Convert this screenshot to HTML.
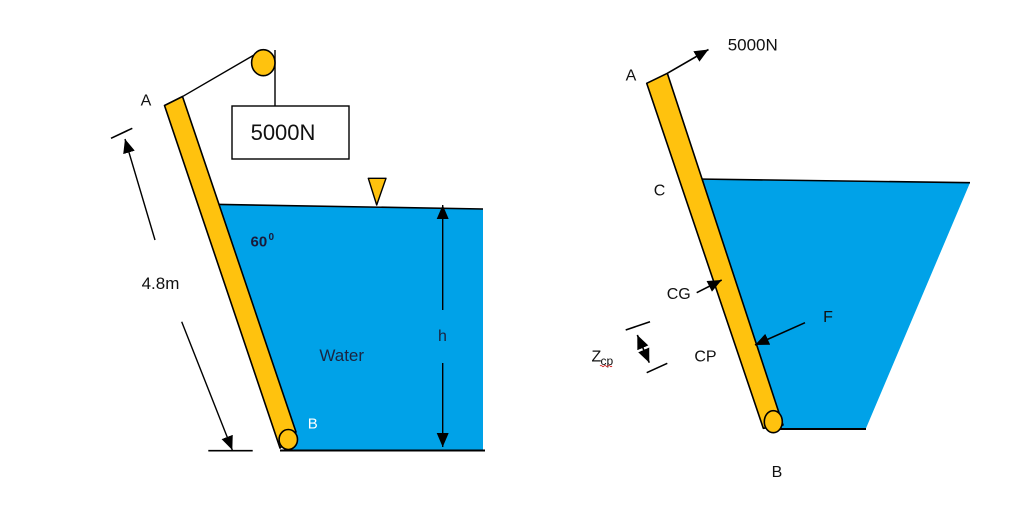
<!DOCTYPE html>
<html>
<head>
<meta charset="utf-8">
<style>
html,body{margin:0;padding:0;background:#fff;}
svg{display:block;}
text{font-family:"Liberation Sans",sans-serif;}
</style>
</head>
<body>
<svg width="1024" height="515" viewBox="0 0 1024 515" xmlns="http://www.w3.org/2000/svg">
<defs>
<marker id="ah" viewBox="0 0 14 12" refX="14" refY="6" markerWidth="14" markerHeight="12" markerUnits="userSpaceOnUse" orient="auto">
<path d="M0,0 L14,6 L0,12 z" fill="#000"/>
</marker>
<marker id="ahs" viewBox="0 0 14 12" refX="0" refY="6" markerWidth="14" markerHeight="12" markerUnits="userSpaceOnUse" orient="auto">
<path d="M14,0 L0,6 L14,12 z" fill="#000"/>
</marker>
</defs>

<!-- LEFT DIAGRAM -->
<polygon points="208,204 483,209 483,450.5 286,450.5" fill="#00a2e8"/>
<line x1="213" y1="204.3" x2="483" y2="209" stroke="#000" stroke-width="1.6"/>
<line x1="280" y1="450.5" x2="485" y2="450.5" stroke="#000" stroke-width="2"/>

<polygon points="164.5,105.5 182.5,96.5 296,432 280,448" fill="#ffc20e" stroke="#000" stroke-width="1.6" stroke-linejoin="round"/>
<ellipse cx="288.3" cy="439.5" rx="9.2" ry="10" fill="#ffc20e" stroke="#000" stroke-width="1.6"/>

<line x1="182.3" y1="96.7" x2="254" y2="55" stroke="#000" stroke-width="1.4"/>
<line x1="275" y1="50" x2="275" y2="106" stroke="#000" stroke-width="1.4"/>
<ellipse cx="263.3" cy="62.7" rx="11.7" ry="13" fill="#ffc20e" stroke="#000" stroke-width="1.6"/>
<rect x="232" y="106" width="117" height="53" fill="#fff" stroke="#000" stroke-width="1.4"/>
<text x="283" y="140" font-size="22" text-anchor="middle" fill="#111">5000N</text>

<polygon points="368.3,178.3 386,178.3 376.7,205" fill="#ffc20e" stroke="#000" stroke-width="1.4" stroke-linejoin="round"/>

<line x1="442.7" y1="310" x2="442.7" y2="205" stroke="#000" stroke-width="1.4" marker-end="url(#ah)"/>
<line x1="442.7" y1="363" x2="442.7" y2="447" stroke="#000" stroke-width="1.4" marker-end="url(#ah)"/>
<text x="442.5" y="341" font-size="16" text-anchor="middle" fill="#1a2440">h</text>

<line x1="111" y1="138.3" x2="132.3" y2="128.3" stroke="#000" stroke-width="1.6"/>
<line x1="155" y1="240" x2="125" y2="139" stroke="#000" stroke-width="1.4" marker-end="url(#ah)"/>
<line x1="181.7" y1="321.7" x2="232.3" y2="450" stroke="#000" stroke-width="1.4" marker-end="url(#ah)"/>
<line x1="208.3" y1="450.7" x2="252.7" y2="450.7" stroke="#000" stroke-width="1.6"/>
<text x="160.5" y="289" font-size="17" text-anchor="middle" fill="#111">4.8m</text>

<text x="146" y="105.5" font-size="16" text-anchor="middle" fill="#111">A</text>
<text x="250.5" y="246.7" font-size="15" font-weight="bold" fill="#1a1a3a">60</text>
<text x="268.5" y="240" font-size="10" font-weight="bold" fill="#1a1a3a">0</text>
<text x="341.7" y="361" font-size="17" text-anchor="middle" fill="#1a2440">Water</text>
<text x="312.7" y="428.3" font-size="15" text-anchor="middle" fill="#fff">B</text>

<!-- RIGHT DIAGRAM -->
<polygon points="690,179 970,182.7 865.7,429 775,429" fill="#00a2e8"/>
<line x1="696.7" y1="179" x2="970" y2="182.7" stroke="#000" stroke-width="1.6"/>
<line x1="780" y1="429" x2="866" y2="429" stroke="#000" stroke-width="2"/>

<polygon points="646.7,83.3 667.3,73.3 783,425 763.3,428.3" fill="#ffc20e" stroke="#000" stroke-width="1.6" stroke-linejoin="round"/>
<ellipse cx="773.3" cy="421.7" rx="9" ry="11" fill="#ffc20e" stroke="#000" stroke-width="1.6"/>

<line x1="667.3" y1="73.3" x2="708.5" y2="49.5" stroke="#000" stroke-width="1.6" marker-end="url(#ah)"/>
<text x="727.7" y="50.7" font-size="17" fill="#111">5000N</text>

<line x1="696.7" y1="292.7" x2="721.7" y2="280" stroke="#000" stroke-width="1.6" marker-end="url(#ah)"/>
<line x1="805" y1="322.7" x2="755" y2="345" stroke="#000" stroke-width="1.6" marker-end="url(#ah)"/>

<line x1="625.7" y1="330" x2="650" y2="321.7" stroke="#000" stroke-width="1.6"/>
<line x1="646.7" y1="372.7" x2="667.3" y2="363.3" stroke="#000" stroke-width="1.6"/>
<line x1="637.3" y1="335" x2="649.3" y2="362.7" stroke="#000" stroke-width="1.6" marker-start="url(#ahs)" marker-end="url(#ah)"/>
<text x="591.5" y="361.7" font-size="16" fill="#111">Z</text>
<text x="600.5" y="365" font-size="12" fill="#111">cp</text>
<path d="M600,366 q1,-1.5 2,0 t2,0 t2,0 t2,0 t2,0 t2,0" fill="none" stroke="#d02020" stroke-width="0.8"/>

<text x="631" y="80.7" font-size="16" text-anchor="middle" fill="#111">A</text>
<text x="659.5" y="195.7" font-size="16" text-anchor="middle" fill="#111">C</text>
<text x="678.7" y="299" font-size="16" text-anchor="middle" fill="#111">CG</text>
<text x="828" y="322" font-size="16" text-anchor="middle" fill="#111">F</text>
<text x="705.5" y="361.5" font-size="16" text-anchor="middle" fill="#111">CP</text>
<text x="777" y="477" font-size="16" text-anchor="middle" fill="#111">B</text>
</svg>
</body>
</html>
